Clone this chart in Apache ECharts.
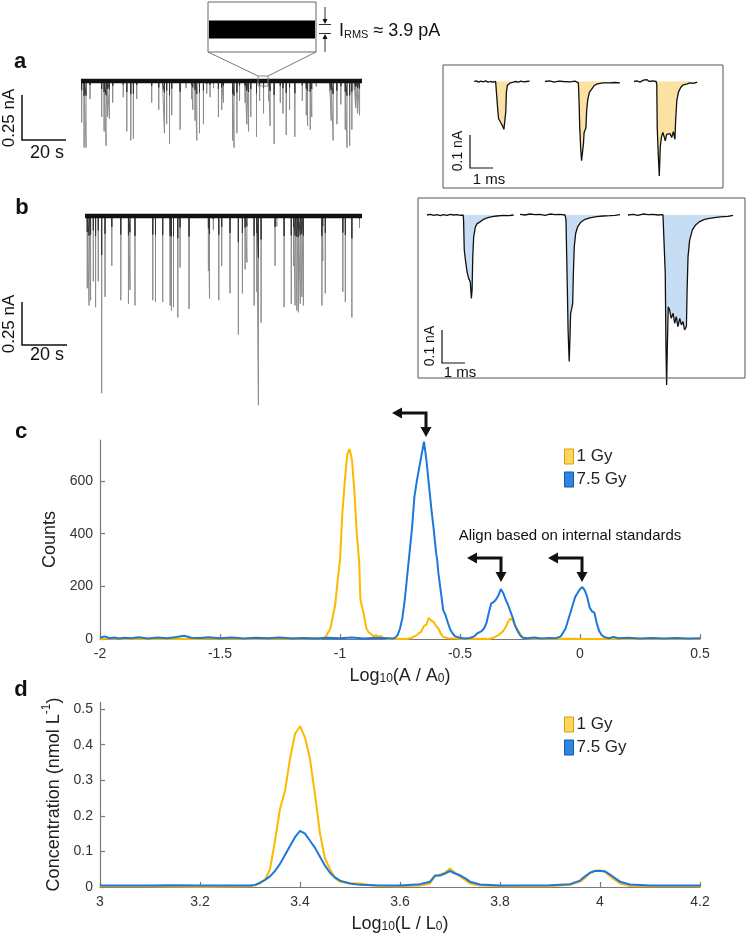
<!DOCTYPE html>
<html>
<head>
<meta charset="utf-8">
<title>Nanopore traces and peak histograms</title>
<script src="https://cdn.jsdelivr.net/npm/echarts/dist/echarts.min.js"></script>
<style>
html, body { margin: 0; padding: 0; background: #fff; }
#main { width: 750px; height: 934px; }
</style>
</head>
<body>
<div id="main"></div>
<script>
// ---------- data ----------
// panel a: current trace, spike times (s) and depths (nA)
var traceALen = 127.6;
var spikeAt = [0.3, 1.4, 2.3, 4.1, 9.4, 10.5, 11.4, 12.0, 12.9, 14.4, 19.2, 20.8, 22.6, 23.8, 25.3, 32.1, 35.3, 37.0, 37.9, 38.9,
  40.2, 41.2, 45.0, 47.7, 50.2, 50.8, 51.8, 52.6, 53.8, 55.6, 57.1, 58.6, 60.2, 62.4, 63.9, 64.7, 68.8, 69.5, 70.8, 72.0,
  74.5, 75.3, 76.1, 77.1, 79.7, 81.1, 82.9, 85.2, 85.9, 87.7, 90.5, 91.7, 93.2, 94.7, 97.1, 100.5, 102.3, 102.9, 104.1, 104.8,
  106.8, 112.9, 113.6, 114.5, 116.2, 118.0, 120.0, 120.8, 122.0, 123.0, 124.1, 124.7, 125.6, 126.5];
var spikeAd = [0.23, 0.37, 0.37, 0.10, 0.20, 0.28, 0.36, 0.20, 0.21, 0.12, 0.09, 0.28, 0.33, 0.32, 0.10, 0.12, 0.16, 0.05, 0.29, 0.24,
  0.35, 0.19, 0.27, 0.04, 0.10, 0.16, 0.22, 0.33, 0.29, 0.24, 0.07, 0.09, 0.04, 0.20, 0.16, 0.12, 0.33, 0.37, 0.29, 0.11,
  0.12, 0.24, 0.28, 0.20, 0.31, 0.11, 0.18, 0.11, 0.25, 0.35, 0.12, 0.18, 0.30, 0.16, 0.31, 0.11, 0.19, 0.25, 0.27, 0.20,
  0.03, 0.06, 0.22, 0.33, 0.24, 0.13, 0.27, 0.37, 0.36, 0.27, 0.05, 0.15, 0.18, 0.19];

// panel b: current trace
var traceBLen = 123.0;
var spikeBt = [1.0, 1.8, 2.5, 3.7, 4.7, 5.9, 7.4, 8.9, 11.9, 15.9, 19.3, 20.0, 22.2, 30.1, 31.3, 34.5, 37.8, 38.4, 39.3, 41.2,
  42.2, 46.2, 54.8, 55.3, 57.0, 59.4, 60.7, 64.4, 68.1, 69.9, 71.1, 71.9, 75.1, 76.3, 77.0, 78.2, 84.4, 85.2, 88.4, 91.6,
  92.6, 93.3, 94.1, 94.8, 95.6, 96.3, 97.0, 105.2, 105.6, 106.7, 114.5, 115.6, 118.5, 121.9];
var spikeBd = [0.42, 0.52, 0.49, 0.38, 0.53, 0.38, 1.03, 0.47, 0.29, 0.49, 0.51, 0.43, 0.52, 0.49, 0.50, 0.50, 0.52, 0.55, 0.53, 0.59,
  0.30, 0.54, 0.32, 0.48, 0.08, 0.49, 0.29, 0.45, 0.69, 0.45, 0.31, 0.27, 0.52, 0.44, 1.10, 0.62, 0.29, 0.06, 0.53, 0.51,
  0.29, 0.52, 0.55, 0.56, 0.51, 0.47, 0.52, 0.52, 0.26, 0.45, 0.44, 0.50, 0.59, 0.07];

// single events, [time (ms), current (nA)]
var evA1 = [[0,0],[0.1,0.002],[0.2,-0.002],[0.3,0.001],[0.4,-0.001],[0.51,0.002],[0.61,-0.002],[0.71,0],[0.83,-0.002],[0.94,0],
  [1.0,-0.004],[1.03,-0.083],[1.07,-0.113],[1.12,-0.119],[1.19,-0.128],[1.26,-0.138],[1.3,-0.145],[1.35,-0.141],[1.38,-0.093],
  [1.41,-0.032],[1.45,-0.012],[1.51,-0.006],[1.58,-0.004],[1.7,-0.002],[1.81,0],[1.93,-0.002],[2.04,0.001],[2.16,-0.001],[2.28,0],[2.42,0.001]];
var evA2 = [[0,0],[0.2,0.002],[0.4,-0.002],[0.6,0.001],[0.8,0],[1.1,-0.001],[1.3,0.001],[1.38,-0.002],[1.45,-0.004],[1.48,-0.059],
  [1.51,-0.139],[1.55,-0.2],[1.59,-0.24],[1.64,-0.245],[1.67,-0.19],[1.7,-0.155],[1.74,-0.15],[1.78,-0.14],[1.81,-0.089],[1.86,-0.054],
  [1.93,-0.033],[2.03,-0.023],[2.13,-0.013],[2.25,-0.008],[2.39,-0.006],[2.54,-0.004],[2.83,-0.004],[3.04,-0.003],[3.26,-0.004]];
var evA3 = [[0,0],[0.12,0.002],[0.26,-0.002],[0.41,0.004],[0.55,0.006],[0.67,0],[0.81,0.002],[0.96,0],[0.99,-0.008],[1.01,-0.14],
  [1.06,-0.23],[1.1,-0.286],[1.14,-0.2],[1.19,-0.17],[1.25,-0.154],[1.3,-0.165],[1.36,-0.18],[1.42,-0.16],[1.49,-0.165],[1.57,-0.158],
  [1.64,-0.17],[1.71,-0.152],[1.78,-0.175],[1.81,-0.119],[1.86,-0.059],[1.93,-0.033],[2.03,-0.018],[2.14,-0.01],[2.29,-0.008],
  [2.43,-0.004],[2.58,-0.006],[2.75,-0.002]];
var evB1 = [[0,0],[0.14,0.002],[0.29,-0.001],[0.43,0.001],[0.58,-0.002],[0.72,0.001],[0.87,-0.001],[1.01,0.002],[1.16,0],[1.3,0.001],
  [1.45,-0.001],[1.57,0],[1.59,-0.015],[1.62,-0.106],[1.67,-0.136],[1.74,-0.172],[1.81,-0.192],[1.88,-0.202],[1.93,-0.253],[1.96,-0.227],
  [1.99,-0.126],[2.03,-0.066],[2.1,-0.037],[2.17,-0.027],[2.32,-0.02],[2.46,-0.013],[2.61,-0.009],[2.83,-0.005],[3.04,-0.003],
  [3.33,-0.001],[3.55,-0.002],[3.77,0]];
var evB2 = [[0,0.002],[0.22,0],[0.43,0.003],[0.65,0.001],[0.87,0.002],[1.09,-0.001],[1.3,0.003],[1.52,0.001],[1.74,0.002],[1.96,0],
  [2.0,-0.015],[2.03,-0.126],[2.06,-0.227],[2.09,-0.348],[2.12,-0.409],[2.14,-0.444],[2.17,-0.379],[2.2,-0.298],[2.25,-0.283],
  [2.29,-0.268],[2.32,-0.177],[2.36,-0.096],[2.42,-0.056],[2.51,-0.035],[2.64,-0.022],[2.83,-0.013],[3.04,-0.009],[3.33,-0.005],
  [3.62,-0.003],[3.91,-0.002],[4.13,-0.001],[4.35,0.001]];
var evB3 = [[0,0],[0.22,0.002],[0.43,-0.001],[0.65,0.003],[0.87,0.001],[1.09,0.002],[1.3,0],[1.52,0.001],[1.59,-0.005],[1.62,-0.177],
  [1.65,-0.399],[1.68,-0.515],[1.71,-0.399],[1.75,-0.278],[1.81,-0.288],[1.88,-0.313],[1.96,-0.298],[2.03,-0.328],[2.1,-0.308],
  [2.17,-0.338],[2.25,-0.313],[2.32,-0.333],[2.39,-0.323],[2.46,-0.348],[2.54,-0.338],[2.57,-0.227],[2.61,-0.126],[2.68,-0.076],
  [2.8,-0.045],[2.94,-0.03],[3.12,-0.02],[3.33,-0.013],[3.55,-0.01],[3.84,-0.007],[4.13,-0.005],[4.35,-0.004],[4.57,-0.001]];

// panel c: counts vs Log10(A/A0)
var c1Gy = [[-2,0],[-1.95,2],[-1.9,0],[-1.85,1],[-1.8,0],[-1.7,1],[-1.6,0],[-1.5,2],[-1.4,0],[-1.3,1],[-1.2,2],[-1.15,1],
  [-1.1,3],[-1.08,2],[-1.06,8],[-1.04,40],[-1.02,130],[-1.01,220],[-1.0,300],[-0.99,480],[-0.98,600],[-0.97,700],[-0.96,722],
  [-0.95,680],[-0.94,560],[-0.93,400],[-0.92,290],[-0.915,150],[-0.9,90],[-0.89,40],[-0.88,25],[-0.87,18],[-0.86,10],[-0.85,15],
  [-0.84,8],[-0.83,12],[-0.82,5],[-0.81,3],[-0.8,0],[-0.76,1],[-0.72,0],[-0.7,5],[-0.68,15],[-0.66,30],[-0.65,50],[-0.64,55],
  [-0.63,80],[-0.62,70],[-0.61,65],[-0.6,50],[-0.59,40],[-0.58,20],[-0.57,8],[-0.55,3],[-0.5,1],[-0.45,0],[-0.4,1],[-0.38,0],
  [-0.36,5],[-0.34,15],[-0.32,30],[-0.31,45],[-0.3,65],[-0.29,78],[-0.28,70],[-0.27,50],[-0.26,35],[-0.25,20],[-0.24,8],[-0.22,2],
  [-0.15,0],[-0.05,1],[0.05,0],[0.15,1],[0.3,0],[0.5,0]];
var c75Gy = [[-2,5],[-1.98,10],[-1.96,3],[-1.94,6],[-1.92,2],[-1.9,5],[-1.87,3],[-1.84,7],[-1.8,2],[-1.76,6],[-1.72,3],[-1.68,8],
  [-1.65,12],[-1.62,5],[-1.58,4],[-1.55,7],[-1.5,3],[-1.45,6],[-1.4,2],[-1.35,5],[-1.3,3],[-1.25,6],[-1.2,2],[-1.15,4],[-1.1,2],
  [-1.05,5],[-1.0,3],[-0.95,6],[-0.9,2],[-0.85,5],[-0.8,3],[-0.78,2],[-0.77,5],[-0.76,15],[-0.75,40],[-0.74,80],[-0.73,150],
  [-0.72,240],[-0.71,330],[-0.7,420],[-0.69,540],[-0.68,600],[-0.67,650],[-0.66,700],[-0.65,750],[-0.64,680],[-0.63,590],
  [-0.62,500],[-0.61,420],[-0.6,330],[-0.595,300],[-0.59,250],[-0.58,180],[-0.57,110],[-0.56,90],[-0.55,60],[-0.54,35],[-0.53,20],
  [-0.52,10],[-0.5,5],[-0.48,2],[-0.46,4],[-0.44,10],[-0.43,20],[-0.42,25],[-0.41,30],[-0.4,40],[-0.39,60],[-0.38,100],[-0.37,135],
  [-0.36,140],[-0.35,150],[-0.34,165],[-0.33,190],[-0.32,175],[-0.31,150],[-0.3,130],[-0.29,105],[-0.28,80],[-0.27,50],[-0.26,30],
  [-0.25,15],[-0.24,5],[-0.22,3],[-0.19,6],[-0.16,2],[-0.13,4],[-0.1,3],[-0.08,10],[-0.06,40],[-0.05,70],[-0.04,100],[-0.03,130],
  [-0.02,160],[-0.01,175],[0,190],[0.01,197],[0.02,185],[0.03,160],[0.04,120],[0.05,105],[0.06,100],[0.07,60],[0.08,30],[0.09,15],
  [0.1,8],[0.12,3],[0.14,8],[0.16,3],[0.2,5],[0.25,2],[0.3,4],[0.35,2],[0.4,4],[0.45,2],[0.5,3]];

// panel d: concentration (nmol/L) vs Log10(L/L0)
var d1Gy = [[3,0.002],[3.1,0.002],[3.2,0.001],[3.3,0.002],[3.31,0.005],[3.32,0.01],[3.33,0.02],[3.34,0.05],[3.35,0.13],[3.36,0.22],
  [3.37,0.27],[3.38,0.36],[3.39,0.43],[3.4,0.452],[3.41,0.42],[3.42,0.36],[3.43,0.26],[3.44,0.15],[3.45,0.08],[3.46,0.05],
  [3.47,0.025],[3.48,0.015],[3.5,0.01],[3.52,0.01],[3.54,0.005],[3.56,0.003],[3.6,0.002],[3.64,0.004],[3.66,0.01],[3.67,0.03],
  [3.68,0.035],[3.69,0.04],[3.7,0.052],[3.71,0.04],[3.72,0.03],[3.73,0.02],[3.74,0.01],[3.76,0.004],[3.8,0.002],[3.9,0.002],
  [3.94,0.006],[3.96,0.015],[3.97,0.025],[3.98,0.04],[3.99,0.046],[4.0,0.047],[4.01,0.042],[4.02,0.03],[4.03,0.02],[4.04,0.01],
  [4.06,0.003],[4.1,0.002],[4.2,0.002]];
var d75Gy = [[3,0.004],[3.1,0.004],[3.15,0.005],[3.2,0.004],[3.3,0.004],[3.31,0.006],[3.32,0.012],[3.33,0.02],[3.34,0.03],[3.35,0.045],
  [3.36,0.065],[3.37,0.09],[3.38,0.115],[3.39,0.14],[3.4,0.158],[3.41,0.15],[3.42,0.13],[3.43,0.11],[3.44,0.085],[3.45,0.06],
  [3.46,0.04],[3.47,0.027],[3.48,0.018],[3.5,0.01],[3.52,0.006],[3.55,0.005],[3.6,0.004],[3.64,0.008],[3.66,0.015],[3.67,0.032],
  [3.68,0.032],[3.69,0.038],[3.7,0.045],[3.71,0.038],[3.72,0.033],[3.73,0.025],[3.74,0.015],[3.76,0.007],[3.8,0.004],[3.9,0.005],
  [3.94,0.008],[3.96,0.018],[3.97,0.03],[3.98,0.04],[3.99,0.045],[4.0,0.045],[4.01,0.044],[4.02,0.035],[4.03,0.025],[4.04,0.015],
  [4.06,0.007],[4.1,0.004],[4.2,0.004]];

var cTicksX = [-2, -1.5, -1, -0.5, 0, 0.5];
var cTicksY = [0, 200, 400, 600];
var dTicksX = [3, 3.2, 3.4, 3.6, 3.8, 4, 4.2];
var dTicksY = [0, 0.1, 0.2, 0.3, 0.4, 0.5];
var seriesNames = ['1 Gy', '7.5 Gy'];

// ---------- styles ----------
var FONT = 'Liberation Sans, Arial, Helvetica, sans-serif';
var YELLOW = '#FFB800', BLUE = '#1C78DC';
var FILL_A = '#FCE2A2', FILL_B = '#C7DDF3';
var PX_MS = 23, PX_NA = 330;

var chart = echarts.init(document.getElementById('main'), null, { renderer: 'canvas' });

function spikePath(ts, ds, frac) {
  var out = [];
  for (var i = 0; i < ts.length; i++) {
    out.push([ts[i], 0], [ts[i], -ds[i] * frac], [ts[i], 0]);
  }
  return out;
}

var grids = [], xAxes = [], yAxes = [], series = [];

function hiddenAxes(xmin, xmax, ymin, ymax) {
  xAxes.push({ type: 'value', gridIndex: grids.length - 1, min: xmin, max: xmax, show: false });
  yAxes.push({ type: 'value', gridIndex: grids.length - 1, min: ymin, max: ymax, show: false });
  return grids.length - 1;
}

function lineS(idx, data, color, width, extra) {
  var s = {
    type: 'line', xAxisIndex: idx, yAxisIndex: idx, data: data, showSymbol: false, symbol: 'none',
    lineStyle: { color: color, width: width }, itemStyle: { color: color }, silent: true, animation: false
  };
  for (var k in extra) s[k] = extra[k];
  series.push(s);
}

// trace a
grids.push({ left: 81, top: 81 - 0.02 * 180, width: 281, height: 0.42 * 180 });
var gA = hiddenAxes(0, traceALen, -0.4, 0.02);
lineS(gA, spikePath(spikeAt, spikeAd, 1), '#8c8c8c', 1);
lineS(gA, spikePath(spikeAt, spikeAd, 0.22), '#333', 1);
lineS(gA, [[0, 0], [traceALen, 0]], '#111', 4.5);

// trace b
grids.push({ left: 85, top: 216 - 0.02 * 172, width: 277, height: 1.17 * 172 });
var gB = hiddenAxes(0, traceBLen, -1.15, 0.02);
lineS(gB, spikePath(spikeBt, spikeBd, 1), '#8c8c8c', 1);
lineS(gB, spikePath(spikeBt, spikeBd, 0.22), '#333', 1);
lineS(gB, [[0, 0], [traceBLen, 0]], '#111', 4.5);

// zoomed noise band (I_RMS)
grids.push({ left: 209, top: 20, width: 106, height: 19 });
var gN = hiddenAxes(0, 1, -1, 1);
lineS(gN, [[0, 0], [1, 0]], '#000', 18);

// single events
function eventGrid(ev, left, base, ymin, fill) {
  var dur = ev[ev.length - 1][0];
  grids.push({ left: left, top: base - 0.01 * PX_NA, width: dur * PX_MS, height: (0.01 - ymin) * PX_NA });
  var g = hiddenAxes(0, dur, ymin, 0.01);
  lineS(g, ev, '#111', 1.3, { areaStyle: { color: fill, opacity: 1 } });
}
eventGrid(evA1, 474, 81.5, -0.3, FILL_A);
eventGrid(evA2, 545, 81.5, -0.3, FILL_A);
eventGrid(evA3, 634, 81.5, -0.3, FILL_A);
eventGrid(evB1, 427, 215, -0.55, FILL_B);
eventGrid(evB2, 520, 215, -0.55, FILL_B);
eventGrid(evB3, 628, 215, -0.55, FILL_B);

// panels c and d
var axisLineStyle = { color: '#7a7a7a', width: 1.2 };
var subRich = {
  n: { fontSize: 18, fontFamily: FONT, color: '#222', lineHeight: 22, verticalAlign: 'bottom' },
  s: { fontSize: 12, fontFamily: FONT, color: '#222', lineHeight: 14, verticalAlign: 'bottom' },
  u: { fontSize: 12, fontFamily: FONT, color: '#222', lineHeight: 14, verticalAlign: 'top' }
};

function plotAxes(xmin, xmax, xticks, ymin, ymax, yticks, xname, yname, yGap) {
  var g = grids.length - 1;
  xAxes.push({
    type: 'value', gridIndex: g, min: xmin, max: xmax,
    axisLine: { onZero: false, lineStyle: axisLineStyle },
    axisTick: { inside: true, length: 5, lineStyle: axisLineStyle, customValues: xticks },
    axisLabel: { customValues: xticks, margin: 8, color: '#333', fontSize: 14, fontFamily: FONT },
    splitLine: { show: false },
    name: xname, nameLocation: 'middle', nameGap: 24, nameTextStyle: { rich: subRich }
  });
  yAxes.push({
    type: 'value', gridIndex: g, min: ymin, max: ymax,
    axisLine: { show: true, onZero: false, lineStyle: axisLineStyle },
    axisTick: { show: true, inside: true, length: 5, lineStyle: axisLineStyle, customValues: yticks },
    axisLabel: { customValues: yticks, margin: 7, color: '#333', fontSize: 14, fontFamily: FONT },
    splitLine: { show: false },
    name: yname, nameLocation: 'middle', nameGap: yGap, nameRotate: 90,
    nameTextStyle: { rich: subRich }
  });
  return g;
}

grids.push({ left: 100, top: 440, width: 600, height: 199 });
var gC = plotAxes(-2, 0.5, cTicksX, 0, 756, cTicksY, '{n|Log}{s|10}{n|(A / A}{s|0}{n|)}', '{n|Counts}', 27);
lineS(gC, c1Gy, YELLOW, 2, { name: seriesNames[0] });
lineS(gC, c75Gy, BLUE, 2, { name: seriesNames[1] });

grids.push({ left: 100, top: 702, width: 600, height: 187 });
var gD = plotAxes(3, 4.2, dTicksX, 0, 0.52, dTicksY, '{n|Log}{s|10}{n|(L / L}{s|0}{n|)}', '{n|Concentration (nmol L}{u|-1}{n|)}', 30);
lineS(gD, d1Gy, YELLOW, 2, { name: seriesNames[0] });
lineS(gD, d75Gy, BLUE, 2, { name: seriesNames[1] });

var legendData = [
  { name: seriesNames[0], itemStyle: { color: '#FFD65C', borderColor: '#D9A000', borderWidth: 1 } },
  { name: seriesNames[1], itemStyle: { color: '#2E86E0', borderColor: '#1456A8', borderWidth: 1 } }
];
function legendAt(top) {
  return {
    left: 559, top: top, orient: 'vertical', icon: 'rect', itemWidth: 9, itemHeight: 15, itemGap: 6,
    selectedMode: false, data: legendData,
    textStyle: { fontSize: 17, fontFamily: FONT, color: '#222', padding: [0, 0, 0, -2] }
  };
}

// ---------- annotations ----------
var gfx = [];
function txt(x, y, text, size, o) {
  o = o || {};
  gfx.push({
    type: 'text', x: x, y: y, rotation: o.rot || 0, z: 20,
    style: {
      text: text, fontSize: size, fontFamily: FONT, fontWeight: o.bold ? 'bold' : 'normal', fill: '#111',
      align: o.align || 'center', verticalAlign: 'middle', rich: o.rich
    }
  });
}
function poly(points, w, color) {
  gfx.push({ type: 'polyline', z: 20, shape: { points: points }, style: { stroke: color || '#111', lineWidth: w, fill: 'none' } });
}
function tri(points) {
  gfx.push({ type: 'polygon', z: 20, shape: { points: points }, style: { fill: '#111' } });
}
function box(x, y, w, h, color) {
  gfx.push({ type: 'rect', z: 20, shape: { x: x, y: y, width: w, height: h }, style: { fill: 'none', stroke: color || '#555', lineWidth: 1 } });
}
function elbowArrow(xl, y, xc, yt) {
  poly([[xl + 8, y], [xc, y], [xc, yt - 8]], 3);
  tri([[xl, y], [xl + 10, y - 5.5], [xl + 10, y + 5.5]]);
  tri([[xc, yt], [xc - 5.5, yt - 10], [xc + 5.5, yt - 10]]);
}

// panel letters
txt(20, 62, 'a', 22, { bold: true });
txt(22, 208, 'b', 22, { bold: true });
txt(21, 432, 'c', 22, { bold: true });
txt(21, 690, 'd', 22, { bold: true });

// scale bars for traces
poly([[22, 95], [22, 140], [66, 140]], 1.5);
txt(9, 118, '0.25 nA', 17, { rot: Math.PI / 2 });
txt(47, 153, '20 s', 18);
poly([[22, 302], [22, 345], [67, 345]], 1.5);
txt(9, 324, '0.25 nA', 17, { rot: Math.PI / 2 });
txt(47, 355, '20 s', 18);

// zoom inset over trace a
box(208, 2, 108, 50, '#666');
poly([[208, 52], [258, 76]], 1, '#777');
poly([[316, 52], [268, 76]], 1, '#777');
box(258, 76, 10, 10, '#888');
poly([[325, 7], [325, 21]], 1, '#333');
tri([[325, 24], [322.5, 19], [327.5, 19]]);
poly([[319, 24.5], [331, 24.5]], 1, '#333');
poly([[319, 33.5], [331, 33.5]], 1, '#333');
poly([[325, 37], [325, 52]], 1, '#333');
tri([[325, 34], [322.5, 39], [327.5, 39]]);
txt(339, 29, '{i|I}{s|RMS}{i| \u2248 3.9 pA}', 18, {
  align: 'left',
  rich: {
    i: { fontSize: 18, fontFamily: FONT, fill: '#111', lineHeight: 22, verticalAlign: 'bottom' },
    s: { fontSize: 11, fontFamily: FONT, fill: '#111', lineHeight: 13, verticalAlign: 'bottom' }
  }
});

// event inset boxes and scale bars
box(443, 65, 280, 123, '#555');
poly([[470, 135], [470, 168], [493, 168]], 1.2);
txt(458, 151, '0.1 nA', 14, { rot: Math.PI / 2 });
txt(489, 180, '1 ms', 15);

box(418, 198, 327, 180, '#555');
poly([[442, 330], [442, 363], [465, 363]], 1.2);
txt(430, 346, '0.1 nA', 14, { rot: Math.PI / 2 });
txt(460, 373, '1 ms', 15);

// alignment arrows in panel c
elbowArrow(392, 413, 426, 437);
elbowArrow(467, 558, 501, 582);
elbowArrow(548, 558, 582, 582);
txt(570, 536, 'Align based on internal standards', 15);

var option = {
  backgroundColor: '#fff',
  animation: false,
  grid: grids,
  xAxis: xAxes,
  yAxis: yAxes,
  legend: [legendAt(443), legendAt(711)],
  series: series,
  graphic: gfx
};
chart.setOption(option);
</script>
</body>
</html>
